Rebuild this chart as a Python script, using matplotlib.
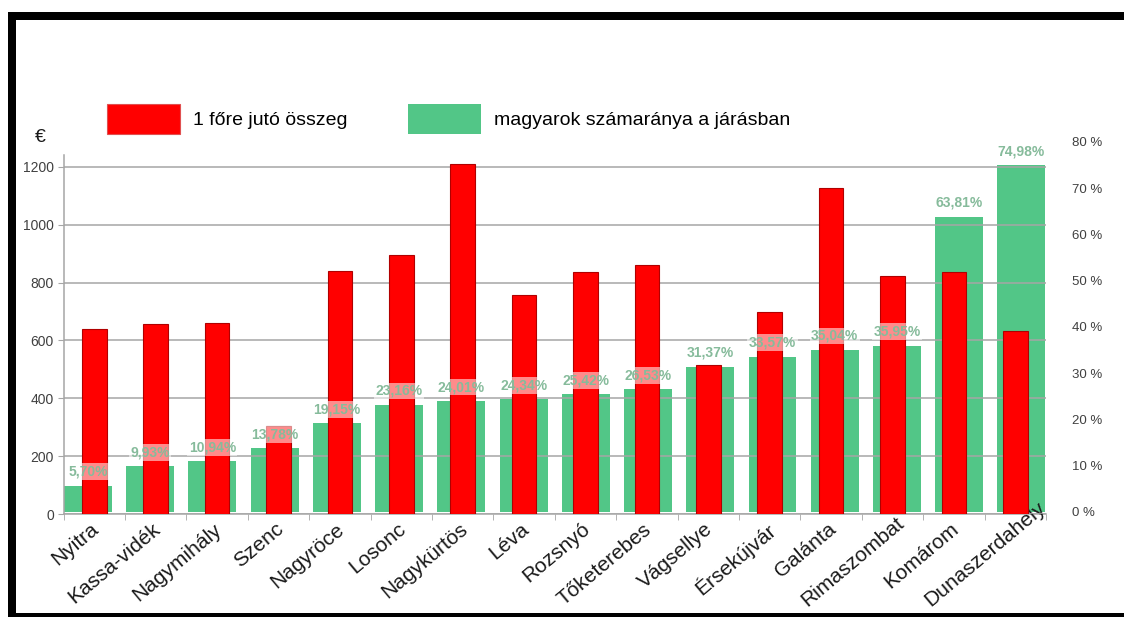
import numpy as np
import matplotlib
matplotlib.use("Agg")
import matplotlib.pyplot as plt
from matplotlib.patches import Patch, Rectangle
from matplotlib.transforms import ScaledTranslation

plt.rcParams['font.family'] = ['Liberation Sans', 'DejaVu Sans']

# data
districts = ["Nyitra", "Kassa-vidék", "Nagymihály", "Szenc", "Nagyröce", "Losonc",
             "Nagykürtös", "Léva", "Rozsnyó", "Tőketerebes", "Vágsellye", "Érsekújvár",
             "Galánta", "Rimaszombat", "Komárom", "Dunaszerdahely"]
per_capita_eur = [640, 656, 659, 305, 839, 895, 1210, 756, 836, 861, 514, 697,
                  1127, 824, 838, 634]
hungarian_share = [5.70, 9.93, 10.94, 13.78, 19.15, 23.16, 24.01, 24.34, 25.42,
                   26.53, 31.37, 33.57, 35.04, 35.95, 63.81, 74.98]
eur_ticks = [0, 200, 400, 600, 800, 1000, 1200]
pct_ticks = [0, 10, 20, 30, 40, 50, 60, 70, 80]

RED = "#ff0000"
GREEN = "#52c687"
W, H = 1124, 617
ROT = 40

fig = plt.figure(figsize=(W / 100, H / 100), dpi=100)

left = 63.6 / W
width = (1046 - 63.6) / W
# percent axis (behind)
ax2 = fig.add_axes([left, (H - 512) / H, width, 370 / H])
# euro axis (front)
ax = fig.add_axes([left, (H - 514) / H, width, (514 - 155) / H])
ax.patch.set_visible(False)

x = np.arange(len(districts))

ax2.bar(x, hungarian_share, width=0.77, color=GREEN, zorder=1)
ax2.set_xlim(-0.392, 15.395)
ax2.set_ylim(0, 80)
ax2.set_yticks(pct_ticks, labels=[f"{p} %" for p in pct_ticks])
ax2.yaxis.tick_right()
ax2.tick_params(axis='y', length=0, pad=19, labelsize=9.5, labelcolor="#404040")
ax2.set_xticks([])
for s in ax2.spines.values():
    s.set_visible(False)

ax.bar(x, per_capita_eur, width=0.40, color=RED, edgecolor="#b00000",
       linewidth=0.8, zorder=3)
ax.set_xlim(-0.5, 15.41)
ax.set_ylim(0, 1241)
ax.set_yticks(eur_ticks)
ax.grid(axis='y', color="#a6a6a6", linewidth=1.1)
ax.set_axisbelow(False)
for gl in ax.get_ygridlines():
    gl.set_zorder(2)
ax.tick_params(axis='y', length=4, color="#a6a6a6", labelsize=10,
               labelcolor="#404040", pad=3)
ax.spines['top'].set_visible(False)
ax.spines['right'].set_visible(False)
for side in ['left', 'bottom']:
    ax.spines[side].set_color("#a6a6a6")
    ax.spines[side].set_linewidth(1.1)

# category labels at centres, tick marks between categories
ax.set_xticks(x, labels=districts)
ax.set_xticks(np.arange(-0.5, len(districts)), minor=True)
ax.tick_params(axis='x', which='major', length=0, pad=4, labelsize=15,
               labelcolor="#1a1a1a")
ax.tick_params(axis='x', which='minor', length=4, color="#a6a6a6")
shift = ScaledTranslation(-4 / 100, 0, fig.dpi_scale_trans)
for lab in ax.get_xticklabels():
    lab.set_rotation(ROT)
    lab.set_ha('right')
    lab.set_va('top')
    lab.set_rotation_mode('anchor')
    lab.set_transform(lab.get_transform() + shift)

# value labels for the percentages
for xi, v in zip(x, hungarian_share):
    ax.annotate(f"{v:.2f}%".replace(".", ","), xy=(xi, v), xycoords=ax2.transData,
                xytext=(0, 5), textcoords='offset points', ha='center', va='bottom',
                fontsize=10, fontweight='bold', color="#86bb9b", zorder=5,
                bbox=dict(boxstyle='square,pad=0.1', fc='white', ec='none', alpha=0.55))

# legend
handles = [Patch(facecolor=RED, edgecolor="#e05050", linewidth=0.8),
           Patch(facecolor=GREEN, edgecolor="none")]
fig.legend(handles, ["1 főre jutó összeg", "magyarok számaránya a járásban"],
           loc='center left', bbox_to_anchor=(107 / W, 1 - 119 / H), ncol=2,
           frameon=False, fontsize=14, handlelength=3.76, handleheight=1.96,
           handletextpad=0.67, columnspacing=3.1, borderpad=0, borderaxespad=0)

fig.text(40 / W, 1 - 137 / H, "€", fontsize=14, ha='center', va='center',
         color="#1a1a1a")

# black frame around the picture
for (x0, y0, w, h) in [(8, 12, W - 8, 8), (8, 12, 8, H - 12), (8, 613, W - 8, 4)]:
    fig.add_artist(Rectangle((x0 / W, 1 - (y0 + h) / H), w / W, h / H,
                             transform=fig.transFigure, color="black", lw=0))

# long labels slide up along their own direction so they stay inside the frame
fig.canvas.draw()
limit = H - 610
c, s = np.cos(np.radians(ROT)), np.sin(np.radians(ROT))
for lab in ax.get_xticklabels():
    bb = lab.get_window_extent()
    if bb.y0 < limit:
        d = (limit - bb.y0) / s
        lab.set_transform(lab.get_transform() +
                          ScaledTranslation(d * c / 100, d * s / 100, fig.dpi_scale_trans))

fig.savefig("out.png", dpi=100)
